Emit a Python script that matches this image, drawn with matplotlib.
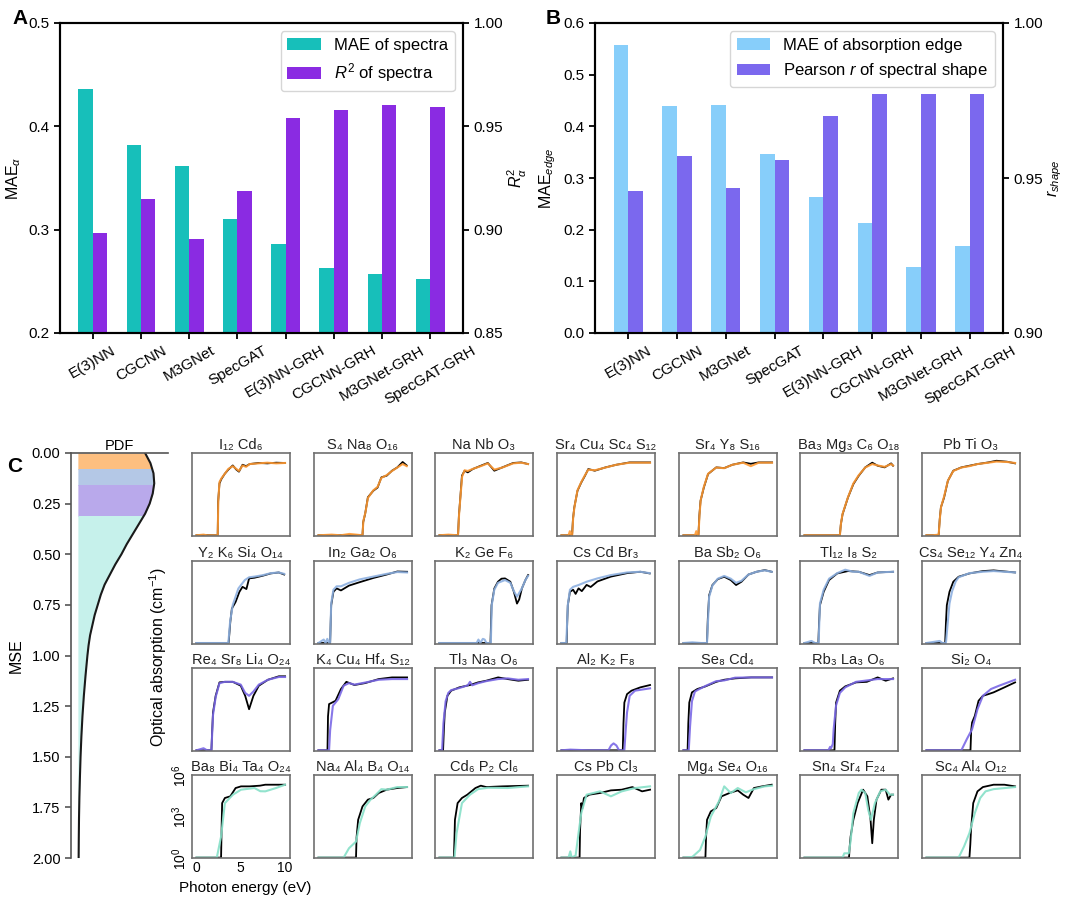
import numpy as np
import matplotlib
matplotlib.use('Agg')
import matplotlib.pyplot as plt
from matplotlib.patches import Rectangle

plt.rcParams['font.family'] = ['Liberation Sans', 'DejaVu Sans']
plt.rcParams['mathtext.fontset'] = 'custom'
plt.rcParams['mathtext.rm'] = 'Liberation Sans'
plt.rcParams['mathtext.it'] = 'Liberation Sans:italic'
plt.rcParams['mathtext.bf'] = 'Liberation Sans:bold'

# ---- panel A / B data ----
models = ['E(3)NN', 'CGCNN', 'M3GNet', 'SpecGAT', 'E(3)NN-GRH', 'CGCNN-GRH', 'M3GNet-GRH', 'SpecGAT-GRH']
mae_spectra = [0.436, 0.382, 0.362, 0.310, 0.286, 0.263, 0.257, 0.252]
r2_spectra = [0.8985, 0.9147, 0.8955, 0.9185, 0.9542, 0.9579, 0.9602, 0.9594]
mae_edge = [0.557, 0.439, 0.441, 0.347, 0.263, 0.213, 0.128, 0.168]
r_shape = [0.9458, 0.957, 0.9469, 0.9559, 0.970, 0.977, 0.977, 0.977]

# ---- panel C: MSE distribution ----
mse_grid = [0.00, 0.05, 0.10, 0.15, 0.20, 0.25, 0.30, 0.35, 0.40, 0.45, 0.50, 0.55, 0.60, 0.65,
            0.70, 0.75, 0.80, 0.85, 0.90, 0.95, 1.00, 1.10, 1.20, 1.30, 1.40, 1.50, 1.60, 1.70,
            1.80, 1.90, 2.00]
pdf_vals = [0.88, 0.95, 0.99, 1.00, 0.98, 0.94, 0.88, 0.80, 0.72, 0.64, 0.57, 0.49, 0.42, 0.35,
            0.30, 0.26, 0.22, 0.19, 0.16, 0.14, 0.125, 0.10, 0.078, 0.06, 0.046, 0.035, 0.027, 0.02,
            0.015, 0.012, 0.01]
band_edges = [0.0, 0.079, 0.16, 0.31, 2.0]
band_colors = ['#FDBF80', '#B4C8E6', '#B9A9EB', '#C6F1EB']
pred_colors = ['#FF9A33', '#8DB0E0', '#7A68E6', '#86E0C8']

# ---- panel C: spectra (photon energy eV, log10 absorption) ----
formulas_r1 = ['I₁₂ Cd₆', 'S₄ Na₈ O₁₆', 'Na Nb O₃', 'Sr₄ Cu₄ Sc₄ S₁₂', 'Sr₄ Y₈ S₁₆', 'Ba₃ Mg₃ C₆ O₁₈', 'Pb Ti O₃']
formulas_r2 = ['Y₂ K₆ Si₄ O₁₄', 'In₂ Ga₂ O₆', 'K₂ Ge F₆', 'Cs Cd Br₃', 'Ba Sb₂ O₆', 'Tl₁₂ I₈ S₂', 'Cs₄ Se₁₂ Y₄ Zn₄']
formulas_r3 = ['Re₄ Sr₈ Li₄ O₂₄', 'K₄ Cu₄ Hf₄ S₁₂', 'Tl₃ Na₃ O₆', 'Al₂ K₂ F₈', 'Se₈ Cd₄', 'Rb₃ La₃ O₆', 'Si₂ O₄']
formulas_r4 = ['Ba₈ Bi₄ Ta₄ O₂₄', 'Na₄ Al₄ B₄ O₁₄', 'Cd₆ P₂ Cl₆', 'Cs Pb Cl₃', 'Mg₄ Se₄ O₁₆', 'Sn₄ Sr₄ F₂₄', 'Sc₄ Al₄ O₁₂']

true_r1 = [
    [(0, 0.05), (1, 0.06), (2.4, 0.05), (2.45, 2.5), (2.6, 3.8), (2.8, 4.1), (3.2, 4.5), (3.6, 4.8), (4.1, 5.1), (4.5, 4.8), (4.8, 4.65), (5.2, 5.15), (5.6, 5.05), (6.0, 5.2), (7, 5.28), (8, 5.25), (9, 5.3), (10, 5.28)],
    [(0, 0.05), (2, 0.05), (4, 0.06), (4.97, 0.05), (5.05, 1.0), (5.27, 1.6), (5.58, 2.8), (6.19, 3.27), (6.67, 3.5), (7.1, 4.24), (7.7, 4.36), (8.3, 4.72), (8.9, 4.96), (9.5, 5.35), (9.96, 5.1)],
    [(0, 0.05), (1, 0.05), (2.1, 0.05), (2.2, 1.5), (2.36, 2.8), (2.54, 4.36), (2.84, 4.72), (3.2, 4.6), (3.76, 4.84), (4.67, 5.08), (5.46, 5.28), (6.19, 4.72), (7.1, 4.96), (8.32, 5.28), (9.23, 5.32), (10, 5.2)],
    [(0, 0.05), (1.2, 0.05), (1.3, 1.2), (1.45, 2.06), (1.81, 3.27), (2.24, 3.87), (2.66, 4.36), (3.03, 4.84), (3.76, 4.72), (4.97, 4.96), (6.19, 5.15), (7.7, 5.32), (10, 5.32)],
    [(0, 0.05), (1.69, 0.05), (1.8, 1.5), (1.93, 2.54), (2.3, 3.5), (2.78, 4.48), (3.7, 4.96), (4.6, 4.91), (5.52, 5.15), (6.74, 5.32), (7.6, 5.22), (8.5, 5.32), (10, 5.32)],
    [(0, 0.05), (4.0, 0.05), (4.1, 0.8), (4.3, 1.57), (4.91, 2.78), (5.52, 3.75), (6.13, 4.36), (6.86, 4.96), (7.65, 5.3), (8.26, 5.08), (9.05, 4.96), (9.78, 5.25), (10, 5.08)],
    [(0, 0.05), (1.38, 0.05), (1.5, 1.2), (1.63, 2.06), (1.99, 2.78), (2.42, 3.99), (3.03, 4.72), (3.94, 4.96), (4.85, 5.08), (5.76, 5.2), (6.98, 5.32), (7.9, 5.44), (9.1, 5.37), (10, 5.25)],
]
pred_r1 = [
    [(0, 0.05), (0.8, 0.1), (1.2, 0.05), (2.4, 0.05), (2.47, 2.6), (2.6, 3.9), (2.8, 4.15), (3.2, 4.5), (3.6, 4.85), (4.1, 5.05), (4.5, 4.85), (4.8, 4.7), (5.2, 5.1), (5.6, 5.0), (6.0, 5.2), (7, 5.25), (8, 5.3), (9, 5.25), (10, 5.28)],
    [(0, 0.05), (1.5, 0.1), (2.5, 0.05), (3.5, 0.15), (4.97, 0.05), (5.07, 1.1), (5.3, 1.7), (5.58, 2.75), (6.19, 3.3), (6.67, 3.55), (7.1, 4.2), (7.7, 4.4), (8.3, 4.7), (8.9, 4.95), (9.5, 5.2), (9.96, 5.05)],
    [(0, 0.05), (1, 0.1), (2.1, 0.05), (2.22, 1.6), (2.38, 2.9), (2.56, 4.3), (2.84, 4.75), (3.2, 4.7), (3.76, 4.85), (4.67, 5.05), (5.46, 5.25), (6.19, 4.8), (7.1, 4.95), (8.32, 5.25), (9.23, 5.3), (10, 5.2)],
    [(0, 0.05), (0.8, 0.05), (0.95, 0.35), (1.1, 0.05), (1.22, 0.1), (1.32, 1.3), (1.47, 2.1), (1.81, 3.3), (2.24, 3.9), (2.66, 4.4), (3.03, 4.8), (3.76, 4.75), (4.97, 4.95), (6.19, 5.15), (7.7, 5.3), (10, 5.3)],
    [(0, 0.05), (1.3, 0.05), (1.45, 0.35), (1.6, 0.05), (1.7, 0.1), (1.82, 1.6), (1.95, 2.6), (2.3, 3.55), (2.78, 4.5), (3.7, 4.95), (4.6, 4.9), (5.52, 5.15), (6.74, 5.3), (7.6, 5.05), (8.5, 5.3), (10, 5.3)],
    [(0, 0.05), (4.0, 0.05), (4.12, 0.9), (4.3, 1.6), (4.91, 2.8), (5.52, 3.8), (6.13, 4.4), (6.86, 4.95), (7.65, 5.2), (8.26, 5.1), (9.05, 5.0), (9.78, 5.2), (10, 5.1)],
    [(0, 0.05), (0.7, 0.05), (1.38, 0.1), (1.52, 1.3), (1.65, 2.1), (1.99, 2.85), (2.42, 4.0), (3.03, 4.7), (3.94, 4.95), (4.85, 5.05), (5.76, 5.2), (6.98, 5.3), (7.9, 5.38), (9.1, 5.35), (10, 5.28)],
]

true_r2 = [
    [(0, 0.05), (3.63, 0.05), (3.75, 1.0), (3.82, 1.57), (4.0, 2.54), (4.42, 3.02), (4.85, 3.75), (5.2, 4.11), (5.64, 3.95), (5.94, 4.72), (6.55, 4.77), (7.46, 4.91), (8.38, 5.08), (9.29, 5.15), (9.9, 5.0)],
    [(0, 0.05), (0.8, 0.05), (1.32, 0.05), (1.38, 1.5), (1.44, 2.78), (1.69, 3.75), (2.05, 4.0), (2.54, 3.85), (3.45, 4.2), (4.67, 4.45), (6.19, 4.75), (7.7, 5.0), (8.9, 5.22), (10, 5.2)],
    [(0, 0.05), (5.76, 0.05), (5.82, 1.5), (5.88, 2.78), (6.19, 3.99), (6.6, 4.48), (7.0, 4.7), (7.4, 4.72), (8.0, 4.48), (8.4, 3.75), (8.75, 2.9), (9.0, 3.2), (9.3, 3.99), (9.7, 4.6), (10, 4.96)],
    [(0, 0.05), (0.59, 0.05), (0.65, 1.5), (0.72, 2.78), (0.96, 3.75), (1.32, 3.9), (1.6, 3.6), (1.93, 4.0), (2.3, 3.8), (2.84, 4.25), (3.3, 4.1), (4.06, 4.5), (5.58, 4.85), (7.4, 5.1), (8.9, 5.2), (9.96, 5.08)],
    [(0, 0.05), (2.66, 0.05), (2.75, 1.8), (2.9, 3.5), (3.27, 4.24), (3.88, 4.67), (4.6, 4.84), (5.34, 4.6), (5.94, 4.24), (6.55, 4.48), (7.34, 5.0), (8.25, 5.2), (9.17, 5.32), (9.96, 5.2)],
    [(0, 0.05), (1.57, 0.05), (1.65, 1.5), (1.75, 2.78), (2.17, 3.75), (2.78, 4.6), (3.7, 5.08), (4.91, 5.25), (6.13, 5.2), (7.34, 4.96), (8.26, 5.15), (10, 5.2)],
    [(0, 0.05), (2.11, 0.05), (2.2, 1.5), (2.3, 2.78), (2.6, 3.75), (3.03, 4.48), (3.63, 4.84), (4.85, 5.08), (6.37, 5.25), (7.58, 5.3), (10, 5.15)],
]
pred_r2 = [
    [(0, 0.05), (3.6, 0.05), (3.8, 1.6), (4.1, 2.8), (4.73, 3.99), (5.1, 4.3), (5.46, 4.6), (5.94, 4.8), (6.55, 4.85), (7.46, 4.95), (8.38, 5.1), (9.29, 5.15), (9.9, 5.05)],
    [(0, 0.05), (0.6, 0.3), (0.8, 0.05), (1.0, 0.35), (1.2, 0.05), (1.32, 0.1), (1.44, 2.9), (1.69, 3.9), (2.05, 4.15), (2.54, 4.15), (3.45, 4.4), (4.67, 4.65), (6.19, 4.85), (7.7, 5.05), (8.9, 5.18), (10, 5.15)],
    [(0, 0.05), (4.2, 0.05), (4.4, 0.3), (4.6, 0.05), (4.9, 0.35), (5.1, 0.3), (5.3, 0.05), (5.8, 0.05), (5.9, 2.78), (6.19, 3.9), (6.6, 4.4), (7.4, 4.6), (8.0, 4.4), (8.4, 3.8), (8.75, 3.4), (9.3, 4.0), (9.7, 4.6), (10, 4.9)],
    [(0, 0.05), (0.55, 0.05), (0.72, 2.8), (0.96, 3.9), (1.32, 4.11), (1.93, 4.24), (2.84, 4.48), (4.06, 4.72), (5.58, 4.96), (7.4, 5.15), (8.9, 5.2), (9.96, 5.1)],
    [(0, 0.05), (1.0, 0.1), (2.0, 0.05), (2.66, 0.05), (2.9, 3.4), (3.27, 4.2), (3.88, 4.7), (4.6, 4.9), (5.34, 4.7), (5.94, 4.4), (6.55, 4.55), (7.34, 5.0), (8.25, 5.2), (9.17, 5.3), (9.96, 5.2)],
    [(0, 0.05), (0.8, 0.2), (1.2, 0.05), (1.6, 0.05), (1.75, 2.9), (2.17, 3.9), (2.78, 4.7), (3.7, 5.1), (4.6, 5.35), (5.5, 5.2), (6.13, 5.2), (7.34, 4.9), (8.26, 5.15), (10, 5.2)],
    [(0, 0.05), (1.5, 0.2), (1.8, 0.05), (2.2, 0.05), (2.6, 2.9), (2.9, 3.8), (3.3, 4.5), (3.63, 4.8), (4.85, 5.1), (6.37, 5.2), (7.58, 5.25), (10, 5.15)],
]

true_r3 = [
    [(0, 0.05), (1.69, 0.05), (1.78, 1.5), (1.87, 2.78), (2.17, 3.99), (2.6, 4.96), (3.2, 5.0), (4.1, 5.0), (5.0, 4.72), (5.5, 3.99), (5.94, 3.02), (6.43, 3.99), (7.04, 4.72), (8.07, 5.15), (9.3, 5.4), (10, 5.4)],
    [(0, 0.05), (1.02, 0.05), (1.08, 2.5), (1.2, 3.39), (1.93, 3.63), (2.54, 4.48), (3.15, 5.0), (4.06, 4.77), (5.28, 4.91), (6.8, 5.2), (8.3, 5.32), (10, 5.32)],
    [(0, 0.05), (0.41, 0.05), (0.5, 1.5), (0.6, 2.78), (0.9, 3.99), (1.32, 4.36), (2.24, 4.6), (3.45, 4.77), (4.36, 4.96), (5.28, 5.08), (6.62, 5.32), (7.7, 5.2), (8.9, 5.08), (10, 5.15)],
    [(0, 0.05), (6.92, 0.05), (7.0, 2.0), (7.1, 3.5), (7.4, 4.11), (7.9, 4.36), (8.9, 4.6), (10, 4.77)],
    [(0, 0.05), (0.47, 0.05), (0.55, 2.0), (0.66, 3.5), (0.96, 4.24), (1.57, 4.48), (2.48, 4.67), (3.7, 5.0), (4.6, 5.15), (5.82, 5.25), (7.65, 5.32), (10, 5.32)],
    [(0, 0.05), (3.39, 0.05), (3.47, 2.0), (3.57, 3.5), (4.0, 4.36), (4.6, 4.67), (5.82, 4.96), (7.04, 5.0), (8.26, 5.32), (9.17, 5.08), (10, 5.25)],
    [(0, 0.05), (4.97, 0.05), (5.05, 1.5), (5.15, 2.06), (5.46, 2.54), (5.88, 3.63), (6.37, 3.99), (6.98, 4.11), (7.58, 4.24), (8.8, 4.6), (10, 4.96)],
]
pred_r3 = [
    [(0, 0.05), (0.8, 0.2), (1.2, 0.05), (1.69, 0.05), (1.87, 2.6), (2.17, 3.9), (2.6, 4.9), (3.2, 5.0), (4.1, 5.0), (5.0, 4.8), (5.5, 4.2), (5.94, 3.99), (6.43, 4.3), (7.04, 4.8), (8.07, 5.15), (9.3, 5.35), (10, 5.35)],
    [(0, 0.05), (1.2, 0.05), (1.32, 1.5), (1.63, 3.27), (2.24, 3.75), (2.84, 4.72), (3.45, 4.91), (4.06, 4.8), (5.28, 4.95), (6.8, 5.15), (8.3, 5.2), (10, 5.2)],
    [(0, 0.05), (0.3, 0.05), (0.45, 2.0), (0.7, 3.6), (1.0, 4.2), (1.32, 4.4), (2.24, 4.55), (3.2, 4.75), (3.45, 5.0), (3.7, 4.75), (4.36, 4.9), (5.28, 5.05), (6.62, 5.2), (7.7, 5.25), (8.9, 5.15), (10, 5.2)],
    [(0, 0.05), (1.0, 0.1), (3.0, 0.05), (5.3, 0.05), (5.6, 0.4), (5.88, 0.55), (6.2, 0.4), (6.5, 0.05), (7.1, 0.05), (7.25, 1.5), (7.4, 2.78), (7.7, 3.99), (8.3, 4.36), (10, 4.53)],
    [(0, 0.05), (0.6, 0.05), (0.75, 1.8), (0.96, 3.6), (1.3, 4.3), (1.57, 4.4), (2.48, 4.7), (3.7, 5.05), (4.6, 5.1), (5.82, 5.3), (7.65, 5.32), (10, 5.32)],
    [(0, 0.05), (2.7, 0.05), (2.9, 0.3), (3.0, 0.2), (3.2, 0.5), (3.3, 1.6), (3.57, 3.3), (4.0, 4.2), (4.6, 4.6), (5.82, 5.0), (7.04, 5.1), (8.26, 5.2), (9.17, 5.2), (10, 5.2)],
    [(0, 0.05), (3.94, 0.05), (4.55, 0.85), (5.15, 1.57), (5.76, 3.02), (6.37, 3.99), (7.28, 4.48), (8.2, 4.72), (10, 5.15)],
]

true_r4 = [
    [(0, 0.05), (2.78, 0.05), (2.85, 2.5), (2.9, 3.99), (3.21, 4.36), (3.82, 4.48), (4.42, 5.08), (5.03, 5.2), (6.0, 5.2), (7.16, 5.25), (7.77, 5.32), (9.29, 5.32), (10, 5.32)],
    [(0, 0.05), (4.24, 0.05), (4.3, 1.5), (4.48, 2.78), (4.97, 3.75), (5.58, 4.24), (6.19, 4.36), (6.8, 4.72), (7.7, 4.96), (8.9, 5.08), (10, 5.15)],
    [(0, 0.05), (1.63, 0.05), (1.7, 1.5), (1.75, 2.78), (2.05, 3.99), (2.54, 4.36), (3.15, 4.6), (4.06, 5.08), (4.67, 5.25), (5.28, 5.15), (7.1, 5.2), (10, 5.25)],
    [(0, 0.05), (2.05, 0.05), (2.1, 2.0), (2.24, 3.99), (2.35, 3.6), (2.54, 4.36), (3.15, 4.6), (4.36, 4.72), (5.58, 4.91), (6.8, 4.96), (8.0, 5.15), (9.1, 4.84), (10, 4.96)],
    [(0, 0.05), (2.48, 0.05), (2.55, 1.5), (2.66, 2.78), (3.09, 3.39), (3.7, 3.63), (4.3, 4.48), (5.2, 4.72), (6.13, 4.91), (6.74, 4.6), (7.34, 4.36), (7.95, 5.08), (8.87, 5.2), (9.96, 5.32)],
    [(0, 0.05), (5.03, 0.05), (5.1, 0.8), (5.21, 1.57), (5.52, 2.78), (6.0, 3.99), (6.62, 4.96), (7.1, 4.48), (7.46, 2.78), (7.65, 1.09), (7.83, 2.78), (8.13, 4.24), (8.68, 4.96), (9.17, 4.96), (9.47, 4.24), (9.78, 4.6), (10, 4.6)],
    [(0, 0.05), (4.85, 0.05), (4.95, 1.0), (5.03, 2.06), (5.28, 3.99), (5.76, 4.84), (6.37, 5.15), (7.58, 5.32), (8.8, 5.32), (10, 5.2)],
]
pred_r4 = [
    [(0, 0.05), (2.3, 0.05), (2.78, 1.57), (3.21, 3.99), (4.12, 4.6), (5.03, 4.96), (6.55, 5.08), (7.2, 4.85), (7.77, 4.84), (8.98, 5.08), (10, 5.32)],
    [(0, 0.05), (2.84, 0.05), (3.45, 0.73), (4.24, 1.21), (4.67, 2.54), (5.28, 3.75), (5.88, 4.24), (6.49, 4.6), (7.1, 5.0), (7.7, 4.96), (8.9, 5.15), (10, 5.15)],
    [(0, 0.05), (1.7, 0.05), (1.93, 1.8), (2.54, 3.99), (3.45, 4.6), (4.36, 5.0), (5.5, 5.1), (7.7, 5.08), (10, 5.2)],
    [(0, 0.05), (0.8, 0.05), (1.0, 0.5), (1.15, 0.05), (1.6, 0.2), (1.93, 1.82), (2.24, 3.27), (2.84, 4.6), (4.36, 4.84), (5.58, 4.48), (6.8, 4.84), (8.3, 5.08), (10, 5.2)],
    [(0, 0.05), (1.0, 0.1), (1.87, 0.6), (2.48, 1.57), (3.09, 3.02), (4.0, 4.11), (4.6, 5.2), (5.34, 4.72), (6.13, 5.08), (7.04, 4.77), (7.95, 5.0), (9.17, 5.2), (10, 5.25)],
    [(0, 0.05), (4.3, 0.05), (4.5, 0.36), (5.0, 0.36), (5.2, 1.2), (5.52, 3.27), (6.13, 4.72), (6.43, 4.96), (6.86, 4.72), (7.2, 3.5), (7.5, 2.78), (7.95, 3.99), (8.56, 4.84), (9.17, 4.96), (9.65, 4.6), (10, 4.6)],
    [(0, 0.05), (3.63, 0.05), (4.24, 0.85), (4.85, 1.82), (5.46, 3.27), (6.07, 4.36), (6.67, 4.84), (7.58, 5.0), (10, 5.15)],
]

W, H = 1080, 906
fig = plt.figure(figsize=(W / 100, H / 100), dpi=100)


def px_axes(l, t, r, b):
    return fig.add_axes([l / W, 1 - b / H, (r - l) / W, (b - t) / H])


def bar_panel(l, r, left_vals, right_vals, lims_l, lims_r, ticks_l, ticks_r,
              c1, c2, lab1, lab2, ylab_l, ylab_r):
    ax = px_axes(l, 23, r, 333)
    x = np.arange(len(models))
    b1 = ax.bar(x - 0.15, left_vals, 0.3, color=c1, label=lab1)
    ax2 = ax.twinx()
    b2 = ax2.bar(x + 0.15, right_vals, 0.3, color=c2, label=lab2)
    ax.set_ylim(*lims_l)
    ax2.set_ylim(*lims_r)
    ax.set_yticks(ticks_l)
    ax2.set_yticks(ticks_r)
    ax.set_xticks(x)
    ax.set_xticklabels(models, rotation=30, ha='center', fontsize=10.5)
    ax.set_ylabel(ylab_l, fontsize=11.5)
    ax2.set_ylabel(ylab_r, fontsize=11.5, labelpad=2)
    for a in (ax, ax2):
        a.tick_params(labelsize=11, width=1.3, length=4)
        for s in a.spines.values():
            s.set_linewidth(1.5)
    ax2.legend([b1, b2], [lab1, lab2], loc='upper right', fontsize=12,
               handlelength=2.0, edgecolor='#cccccc', fancybox=True)
    return ax


bar_panel(60, 463, mae_spectra, r2_spectra, (0.2, 0.5), (0.85, 1.0),
          [0.2, 0.3, 0.4, 0.5], [0.85, 0.90, 0.95, 1.00],
          '#17BFBA', '#8A2BE2', 'MAE of spectra', '$R^2$ of spectra',
          'MAE$_\\alpha$', '$R^2_\\alpha$')
bar_panel(595, 1003, mae_edge, r_shape, (0.0, 0.6), (0.9, 1.0),
          [0.0, 0.1, 0.2, 0.3, 0.4, 0.5, 0.6], [0.90, 0.95, 1.00],
          '#87CEFA', '#7B68EE', 'MAE of absorption edge', 'Pearson $r$ of spectral shape',
          'MAE$_{edge}$', '$r_{shape}$')

fig.text(20 / W, 1 - 18 / H, 'A', fontsize=15, fontweight='bold', ha='center', va='center')
fig.text(553 / W, 1 - 18 / H, 'B', fontsize=15, fontweight='bold', ha='center', va='center')
fig.text(15 / W, 1 - 467 / H, 'C', fontsize=15, fontweight='bold', ha='center', va='center')

# PDF of MSE
axp = px_axes(71, 453, 168, 858)
mse = np.array(mse_grid)
pdf = np.array(pdf_vals)
axp.set_xlim(-0.09, 1.18)
axp.set_ylim(2.0, 0.0)
for lo, hi, col in zip(band_edges[:-1], band_edges[1:], band_colors):
    poly = axp.fill_betweenx(mse, 0, pdf, color=col, lw=0)
    clip = Rectangle((-0.1, lo), 1.5, hi - lo, transform=axp.transData)
    poly.set_clip_path(clip)
axp.plot(pdf, mse, color='#1a1a1a', lw=1.5)
axp.set_xticks([])
axp.set_yticks([0, 0.25, 0.5, 0.75, 1.0, 1.25, 1.5, 1.75, 2.0])
axp.set_yticklabels(['%.2f' % v for v in [0, 0.25, 0.5, 0.75, 1.0, 1.25, 1.5, 1.75, 2.0]])
axp.tick_params(labelsize=10.5, color='#555555', width=1.2, length=4)
axp.spines['right'].set_visible(False)
axp.spines['bottom'].set_visible(False)
for s in ('left', 'top'):
    axp.spines[s].set_color('#555555')
    axp.spines[s].set_linewidth(1.2)
axp.set_title('PDF', fontsize=10.5, pad=1)
axp.set_ylabel('MSE', fontsize=11.5, labelpad=6)

# spectra grid
col_left = [192, 314, 435, 557, 679, 800, 922]
row_top = [453, 560.7, 668, 775.3]
panel_w, panel_h = 97.5, 83

rows = [(formulas_r1, true_r1, pred_r1), (formulas_r2, true_r2, pred_r2),
        (formulas_r3, true_r3, pred_r3), (formulas_r4, true_r4, pred_r4)]
for i, (forms, trues, preds) in enumerate(rows):
    for j in range(7):
        l = col_left[j]
        t = row_top[i]
        ax = px_axes(l, t, l + panel_w, t + panel_h)
        te, tv = zip(*trues[j])
        pe, pv = zip(*preds[j])
        ax.plot(te, tv, color='black', lw=1.3)
        ax.plot(pe, pv, color=pred_colors[i], lw=1.5, alpha=0.9)
        ax.set_xlim(-0.5, 10.5)
        ax.set_ylim(0, 6)
        ax.set_title(forms[j], fontsize=10.5, pad=3, color='#222222')
        for s in ax.spines.values():
            s.set_color('#707070')
            s.set_linewidth(1.2)
        if i == 3 and j == 0:
            ax.set_xticks([0, 5, 10])
            ax.set_yticks([0, 3, 6])
            ax.set_yticklabels(['$10^0$', '$10^3$', '$10^6$'], rotation=90, va='center')
            ax.tick_params(labelsize=10, length=0, pad=2)
        else:
            ax.set_xticks([])
            ax.set_yticks([])

fig.text(158 / W, 1 - 657 / H, 'Optical absorption (cm$^{-1}$)', rotation=90,
         fontsize=11.5, ha='center', va='center')
fig.text(245 / W, 1 - 888 / H, 'Photon energy (eV)', fontsize=11, ha='center', va='center')

fig.savefig('out.png', dpi=100)
